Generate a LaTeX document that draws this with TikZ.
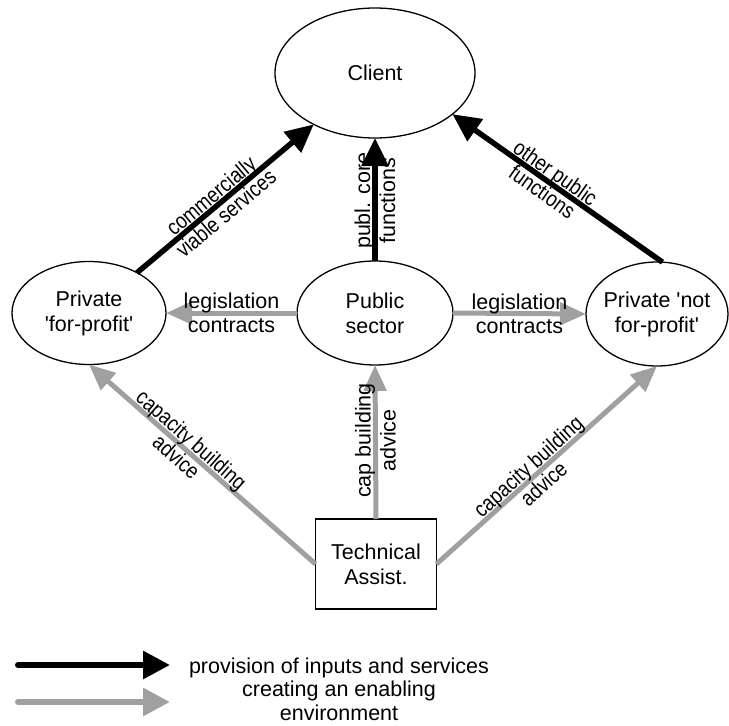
\documentclass[tikz,border=0pt]{standalone}
\usepackage{fontspec}
\setmainfont{Liberation Sans}
\newfontfamily\condf[FakeStretch=0.85]{Liberation Sans}
\usetikzlibrary{arrows.meta,shapes.geometric}
\definecolor{envgray}{RGB}{160,160,160}
\tikzset{
  ell/.style={ellipse,draw=black,line width=1.3pt,inner sep=0pt,outer sep=0pt},
  txt/.style={font=\fontsize{21.5}{25}\selectfont,align=center,inner sep=0pt},
  lbl/.style={font=\fontsize{21.5}{24}\selectfont,align=center,inner sep=0pt},
  vlbl/.style={font=\fontsize{21.5}{25}\selectfont,align=center,inner sep=0pt,rotate=90},
  clbl/.style={font=\condf\fontsize{22}{23}\selectfont,align=center,inner sep=0pt,sloped},
  blk/.style={draw=black,line width=5.5pt,-{Triangle[length=28pt,width=26pt]}},
  gry/.style={draw=envgray,line width=5pt,-{Triangle[length=26pt,width=22pt]}},
  tabox/.style={draw=black,line width=1.3pt,minimum width=121pt,minimum height=90pt,outer sep=0pt,
    font=\fontsize{21.5}{25}\selectfont,align=center}
}
\begin{document}
\begin{tikzpicture}[x=1pt,y=-1pt]
\useasboundingbox (0,0) rectangle (729,726);
% nodes
\node[ell,minimum width=200pt,minimum height=130pt,label={[txt]center:Client}] (client) at (375,73) {};
\node[ell,minimum width=154pt,minimum height=103pt,label={[txt]center:Private\\\textquotesingle for-profit\textquotesingle}] (pfp) at (89,313) {};
\node[ell,minimum width=156pt,minimum height=104pt,label={[txt]center:Public\\sector}] (pub) at (375,313) {};
\node[ell,minimum width=142pt,minimum height=104pt,label={[txt]center:Private \textquotesingle not\\for-profit\textquotesingle}] (pnp) at (657,314) {};
\node[tabox] (ta) at (376,564) {Technical\\Assist.};
% black arrows
\draw[blk] (pfp) -- node[clbl,pos=0.46] {commercially\\viable services} (client);
\draw[blk] (pub) -- node[vlbl,pos=0.49] {publ. core\\functions} (client);
\draw[blk] (pnp.84) -- node[clbl,pos=0.54] {other public\\functions} (client.-28);
% gray arrows
\draw[gry] (pub.west) -- node[lbl,midway] {legislation\\contracts} (pfp.east);
\draw[gry] (pub.east) -- node[lbl,midway] {legislation\\contracts} (pnp.west);
\draw[gry] (ta.west) -- node[clbl,pos=0.58] {capacity building\\advice} (pfp.south);
\draw[gry] (ta.north) -- node[vlbl,pos=0.51] {cap building\\advice} (pub.south);
\draw[gry] (ta.east) -- node[clbl,pos=0.45] {capacity building\\advice} (pnp.south);
% legend
\coordinate (lb1) at (18,665);
\coordinate (lb2) at (170,665);
\coordinate (lg1) at (18,702);
\coordinate (lg2) at (170,702);
\draw[draw=black,line width=6pt,line cap=round,-{Triangle[length=27pt,width=27pt]}] (lb1) -- (lb2);
\draw[draw=envgray,line width=6pt,line cap=round,-{Triangle[length=27pt,width=27pt]}] (lg1) -- (lg2);
\node[font=\fontsize{21.5}{23.5}\selectfont,align=center,inner sep=0pt] (legtxt) at (339,689)
  {provision of inputs and services\\creating an enabling\\environment};
\end{tikzpicture}
\end{document}
